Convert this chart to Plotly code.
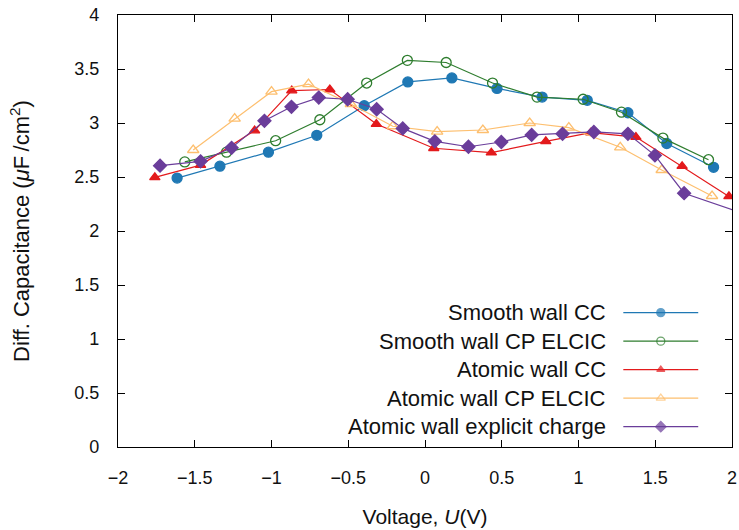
import plotly.graph_objects as go

# ---- data ----
smooth_cc_x = [-1.615, -1.336, -1.02, -0.705, -0.396, -0.112, 0.175, 0.469, 0.763, 1.057, 1.322, 1.575, 1.88]
smooth_cc_y = [2.49, 2.60, 2.73, 2.886, 3.16, 3.38, 3.417, 3.32, 3.24, 3.21, 3.095, 2.81, 2.59]

smooth_cp_x = [-1.565, -1.293, -0.973, -0.685, -0.38, -0.115, 0.138, 0.44, 0.73, 1.03, 1.28, 1.55, 1.847]
smooth_cp_y = [2.64, 2.73, 2.836, 3.03, 3.37, 3.58, 3.56, 3.37, 3.24, 3.22, 3.10, 2.86, 2.66]

atomic_cc_x = [-1.76, -1.462, -1.11, -0.868, -0.62, -0.317, 0.057, 0.432, 0.787, 1.08, 1.374, 1.675, 1.98]
atomic_cc_y = [2.497, 2.61, 2.93, 3.30, 3.31, 2.99, 2.766, 2.725, 2.83, 2.91, 2.87, 2.60, 2.32]

atomic_cp_x = [-1.51, -1.24, -1.0, -0.759, -0.483, -0.21, 0.079, 0.377, 0.682, 0.937, 1.272, 1.542, 1.87]
atomic_cp_y = [2.75, 3.04, 3.29, 3.36, 3.176, 2.97, 2.92, 2.935, 3.0, 2.957, 2.775, 2.565, 2.324]

atomic_ex_x = [-1.726, -1.462, -1.26, -1.046, -0.87, -0.692, -0.504, -0.315, -0.145, 0.064, 0.283, 0.497,
               0.695, 0.896, 1.10, 1.322, 1.498, 1.688, 2.1]
atomic_ex_y = [2.605, 2.645, 2.77, 3.02, 3.15, 3.235, 3.22, 3.127, 2.95, 2.83, 2.78, 2.824,
               2.89, 2.90, 2.917, 2.90, 2.70, 2.35, 2.15]

x_ticks = [-2, -1.5, -1, -0.5, 0, 0.5, 1, 1.5, 2]
y_ticks = [0, 0.5, 1, 1.5, 2, 2.5, 3, 3.5, 4]

series = [
    ("Smooth wall CC", smooth_cc_x, smooth_cc_y, "#1f78b4", "circle", 10),
    ("Smooth wall CP ELCIC", smooth_cp_x, smooth_cp_y, "#2e7d2e", "circle-open", 10),
    ("Atomic wall CC", atomic_cc_x, atomic_cc_y, "#e31a1c", "triangle-up", 9),
    ("Atomic wall CP ELCIC", atomic_cp_x, atomic_cp_y, "#fdbf6f", "triangle-up-open", 10),
    ("Atomic wall explicit charge", atomic_ex_x, atomic_ex_y, "#6a3d9a", "diamond", 10),
]

FONT = "Liberation Sans, Arial, sans-serif"

fig = go.Figure()
for name, xs, ys, col, sym, sz in series:
    fig.add_trace(go.Scatter(
        x=xs, y=ys, mode="lines+markers", name=name, showlegend=False,
        line=dict(color=col, width=1.2),
        marker=dict(symbol=sym, size=sz, color=col, line=dict(color=col, width=1.3)),
    ))

# custom gnuplot-style key (text on left, sample on right)
key_x0, key_x1, key_xm = 0.823, 0.945, 0.884
key_text_x = 0.7985
key_y0, key_dy = 0.311, 0.066
annotations = []
for i, (name, xs, ys, col, sym, sz) in enumerate(series):
    ky = key_y0 - i * key_dy
    fig.add_trace(go.Scatter(
        x=[key_x0, key_xm, key_x1], y=[ky, ky, ky], xaxis="x2", yaxis="y2",
        mode="lines+markers", showlegend=False, hoverinfo="skip",
        line=dict(color=col, width=1.2),
        marker=dict(symbol=sym, size=[0, sz - 2, 0], color=col, line=dict(color=col, width=1.3)),
    ))
    annotations.append(dict(
        x=key_text_x, y=ky, xref="paper", yref="paper", text=name, showarrow=False,
        xanchor="right", yanchor="middle", font=dict(family=FONT, size=22, color="#111111"),
    ))

fig.update_layout(
    width=739, height=530,
    margin=dict(l=118, r=7, t=15, b=83),
    paper_bgcolor="white", plot_bgcolor="white",
    font=dict(family=FONT, size=18, color="#111111"),
    annotations=annotations,
    xaxis=dict(
        range=[-2, 2], tickvals=x_ticks, ticks="inside", ticklen=7, tickwidth=1,
        tickcolor="black", showline=True, linecolor="black", linewidth=1.2, mirror="ticks",
        showgrid=False, zeroline=False, ticklabelstandoff=14,
        tickfont=dict(size=18),
        title=dict(text="Voltage, <i>U</i>(V)", font=dict(size=21), standoff=22),
        automargin=False,
    ),
    yaxis=dict(
        range=[0, 4], tickvals=y_ticks, ticks="inside", ticklen=7, tickwidth=1,
        tickcolor="black", showline=True, linecolor="black", linewidth=1.2, mirror="ticks",
        showgrid=False, zeroline=False, ticklabelstandoff=14,
        tickfont=dict(size=18),
        title=dict(text="Diff. Capacitance (<i>μ</i>F\u2009/cm<sup>2</sup>)", font=dict(size=22), standoff=38),
        automargin=False,
    ),
    xaxis2=dict(overlaying="x", range=[0, 1], visible=False),
    yaxis2=dict(overlaying="y", range=[0, 1], visible=False),
)

fig.write_html("out.html", config={"displayModeBar": False},
               post_script="document.body.style.margin='0';")
